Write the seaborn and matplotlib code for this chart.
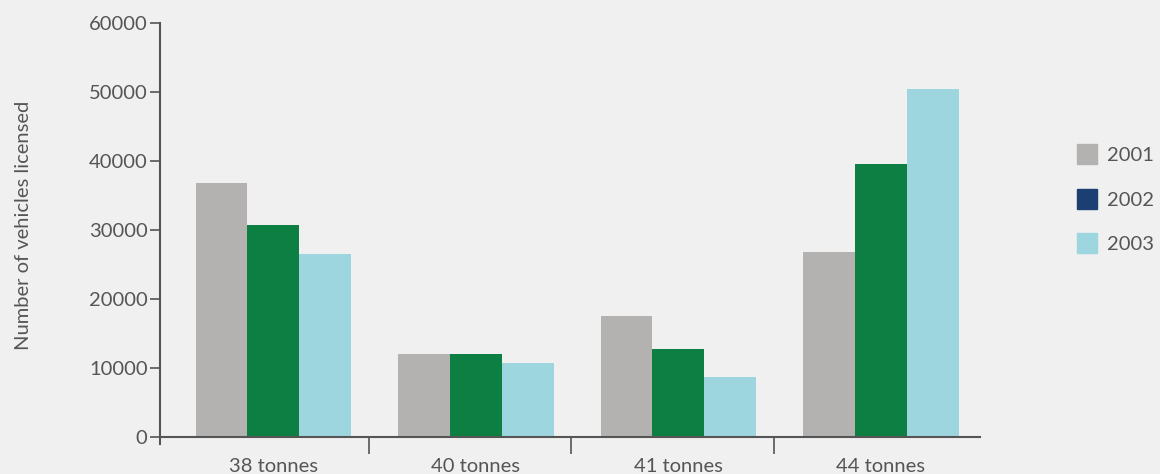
import numpy as np
import pandas as pd
import seaborn as sns
import matplotlib.pyplot as plt
from matplotlib.lines import Line2D

categories = ["38 tonnes", "40 tonnes", "41 tonnes", "44 tonnes"]
years = ["2001", "2002", "2003"]
v2001 = [36800, 12000, 17500, 26900]
v2002 = [30800, 12100, 12800, 39600]
v2003 = [26500, 10700, 8800, 50400]

bar_colors = ["#b3b2b0", "#0e7f43", "#9dd6df"]
legend_colors = ["#b3b2b0", "#1b3f73", "#9dd6df"]
text_col = "#555555"

df = pd.DataFrame({
    "category": categories * 3,
    "year": [y for y in years for _ in categories],
    "value": v2001 + v2002 + v2003,
})

sns.set_style("white")
plt.rcParams["font.family"] = ["Lato", "DejaVu Sans"]
fs = 14.5

fig = plt.figure(figsize=(11.6, 4.74), dpi=100, facecolor="#f0f0f0")
ax = fig.add_axes([0.138, 0.063, 0.707, 0.888])
ax.set_facecolor("#f0f0f0")

sns.barplot(data=df, x="category", y="value", hue="year", palette=bar_colors,
            width=0.77, saturation=1, linewidth=0, edgecolor="none", ax=ax, legend=False)

ax.set_ylim(-1000, 60000)
ax.set_xlim(-0.56, 3.49)
ax.set_yticks(np.arange(0, 60001, 10000))
ax.set_xticks(range(len(categories)))
ax.set_xticklabels(categories)
ax.set_xticks([0.47, 1.47, 2.47], minor=True)

for s in ["top", "right"]:
    ax.spines[s].set_visible(False)
ax.spines["bottom"].set_position(("data", 0))
for s in ["left", "bottom"]:
    ax.spines[s].set_color(text_col)
    ax.spines[s].set_linewidth(1.5)

ax.tick_params(axis="y", left=True, length=7, width=1.2, color=text_col, labelcolor=text_col,
               labelsize=fs, pad=2)
ax.tick_params(axis="x", which="major", bottom=True, length=0, labelcolor=text_col,
               labelsize=fs, pad=15)
ax.tick_params(axis="x", which="minor", bottom=True, length=12, width=1.2, color=text_col)

ax.set_xlabel("")
ax.set_ylabel("Number of vehicles licensed", color=text_col, fontsize=fs, labelpad=41)
ax.yaxis.label.set_y(0.52)

handles = [Line2D([0], [0], marker="s", linestyle="", markersize=14,
                  markerfacecolor=c, markeredgecolor=c) for c in legend_colors]
fig.legend(handles, years, loc="center left", bbox_to_anchor=(0.928, 0.578),
           frameon=False, fontsize=fs, labelcolor=text_col, labelspacing=1.38,
           handletextpad=0.5, handlelength=1, borderpad=0, borderaxespad=0)

fig.savefig("out.png", dpi=100, facecolor=fig.get_facecolor())
